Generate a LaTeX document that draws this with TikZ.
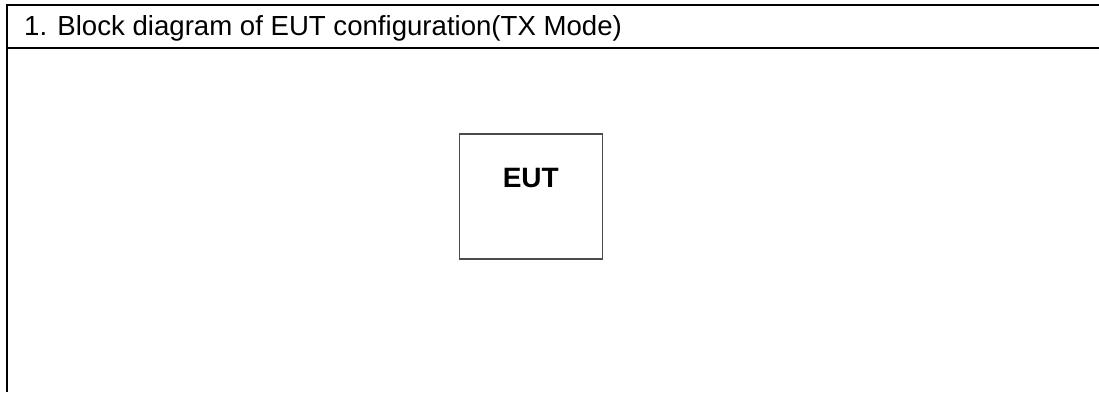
\documentclass[tikz,border=0pt]{standalone}
\usepackage{fontspec}
\setmainfont{Liberation Sans}
\begin{document}
\begin{tikzpicture}[x=1pt,y=1pt,
  frame/.style={line width=2pt, black},
  eutbox/.style={draw=black!70, line width=1.2pt},
  title/.style={font=\fontsize{27.6}{32}\selectfont, anchor=base west, inner sep=0pt},
  euttext/.style={font=\fontsize{28}{32}\selectfont\bfseries, anchor=base, inner sep=0pt}]
\useasboundingbox (0,0) rectangle (1099,-392);
\coordinate (tl) at (6.5,-5);
\coordinate (tr) at (1099,-5);
\coordinate (hl) at (6.5,-47.8);
\coordinate (hr) at (1099,-47.8);
\coordinate (bl) at (6.5,-392);
\draw[frame] (tr) -- (tl) -- (bl);
\draw[frame] (hl) -- (hr);
\node[title] (t) at (24,-35) {1. Block diagram of EUT configuration(TX Mode)};
\node[eutbox, minimum width=143pt, minimum height=125pt, inner sep=0pt] (eut) at (530.8,-196.5) {};
\node[euttext] (eutl) at (530.8,-187) {EUT};
\end{tikzpicture}
\end{document}
